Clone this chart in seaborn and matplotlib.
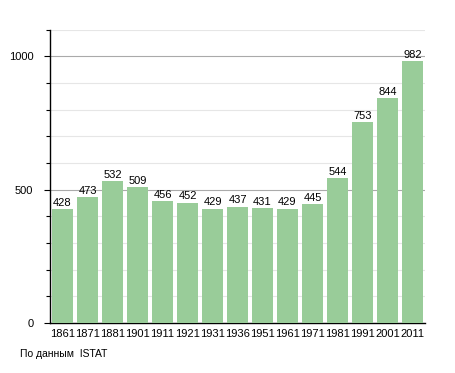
import matplotlib
matplotlib.use("Agg")
import matplotlib.pyplot as plt
import seaborn as sns
import pandas as pd
from matplotlib.ticker import MultipleLocator

years = ["1861", "1871", "1881", "1901", "1911", "1921", "1931", "1936",
         "1951", "1961", "1971", "1981", "1991", "2001", "2011"]
population = [428, 473, 532, 509, 456, 452, 429, 437, 431, 429, 445, 544, 753, 844, 982]

df = pd.DataFrame({"year": years, "pop": population})

sns.set_style("white")
plt.rcParams["font.family"] = ["Liberation Sans", "DejaVu Sans"]
plt.rcParams["text.color"] = "black"
plt.rcParams["xtick.color"] = "black"
plt.rcParams["ytick.color"] = "black"

fig = plt.figure(figsize=(4.55, 3.73), dpi=100)
ax = fig.add_axes([0.110, 0.134, 0.824, 0.786])

sns.barplot(data=df, x="year", y="pop", color="#99cc99", saturation=1,
            width=0.84, linewidth=0, ax=ax, zorder=3)

ax.set_ylim(0, 1100)
ax.set_xlim(-0.5, 14.5)
ax.yaxis.set_major_locator(MultipleLocator(500))
ax.yaxis.set_minor_locator(MultipleLocator(100))
ax.grid(which="major", axis="y", color="#aaaaaa", linewidth=0.8, zorder=0)
ax.grid(which="minor", axis="y", color="#e6e6e6", linewidth=0.8, zorder=0)
ax.set_axisbelow(True)

for s in ["top", "right"]:
    ax.spines[s].set_visible(False)
for s in ["left", "bottom"]:
    ax.spines[s].set_color("black")
    ax.spines[s].set_linewidth(1)

ax.tick_params(axis="y", which="major", length=4, width=0.8, labelsize=8,
               left=True, pad=8, labelcolor="black")
ax.tick_params(axis="y", which="minor", length=3, width=0.8, left=True)
ax.tick_params(axis="x", length=0, labelsize=8, pad=4, labelcolor="black")
ax.set_xlabel("")
ax.set_ylabel("")

for c in ax.containers:
    ax.bar_label(c, fmt="%d", fontsize=8, padding=1, color="black")

fig.text(0.044, 0.043, "По данным  ISTAT", fontsize=7.5, color="black")

fig.savefig("out.png", dpi=100)
